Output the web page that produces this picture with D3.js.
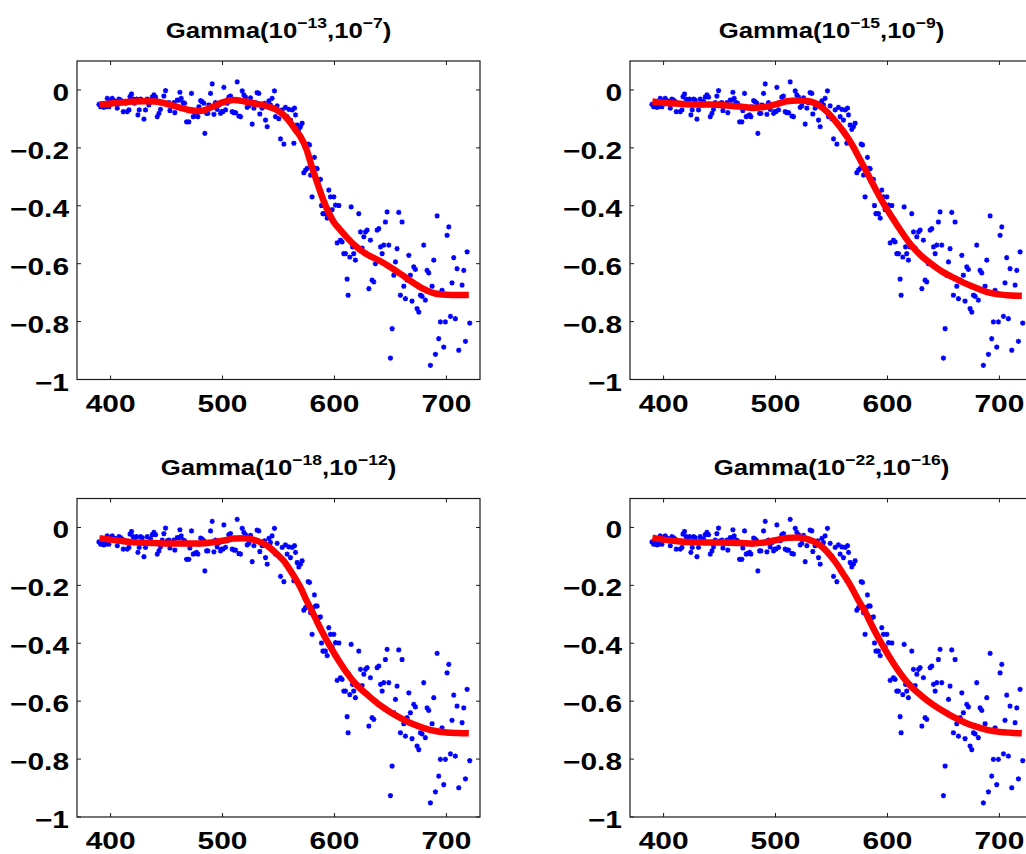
<!DOCTYPE html>
<html>
<head>
<meta charset="utf-8">
<script src="https://cdn.jsdelivr.net/npm/d3@7"></script>
<style>
  body { margin: 0; background: #fff; }
  text { font-family: "Liberation Sans", Arial, Helvetica, sans-serif; font-weight: bold; fill: #000; }
</style>
</head>
<body>
<div id="chart"></div>
<script>
const svgWidth = 1026;
const svgHeight = 854;

// measured samples (same in every panel)
const scatterX = [389.6,391.1,392.6,394.0,395.5,397.0,398.5,400.0,401.5,403.0,404.5,406.0,407.4,408.9,410.4,411.3,413.4,414.9,416.4,417.3,
  418.7,420.2,421.4,423.2,424.4,425.6,426.8,428.3,429.8,431.2,432.7,434.2,435.7,437.2,438.7,440.2,441.7,443.2,444.6,446.1,
  447.6,449.1,450.6,452.1,453.0,455.1,456.5,457.4,459.5,461.0,461.9,463.1,464.9,466.1,467.9,469.9,470.8,472.3,473.8,475.3,
  476.8,478.0,478.9,480.4,481.8,483.3,484.2,485.7,486.9,487.8,489.3,490.8,492.3,493.7,495.2,496.7,498.2,499.1,500.3,501.2,
  502.7,504.2,505.6,507.1,508.6,510.1,511.6,513.1,514.6,516.1,517.6,519.0,520.5,522.0,523.5,525.0,526.5,528.0,529.5,530.9,
  532.4,533.3,535.4,537.5,538.4,539.9,541.4,542.8,544.3,546.4,547.3,548.8,550.3,551.8,553.3,554.8,556.2,557.7,559.2,560.7,
  562.2,563.7,564.3,565.2,566.7,568.1,569.6,571.1,572.6,574.1,575.6,576.5,577.7,578.6,580.0,580.9,582.1,583.3,584.5,586.0,
  587.5,588.4,589.6,590.5,592.0,593.5,594.9,596.4,597.9,599.4,600.9,602.4,603.9,605.3,606.8,608.3,609.8,611.3,612.2,613.7,
  614.9,616.1,617.2,618.7,620.2,621.7,623.2,624.7,626.2,627.7,629.2,630.7,632.1,633.6,635.1,636.6,638.1,639.6,641.1,642.6,
  644.0,645.5,647.0,648.5,650.0,651.5,653.0,654.5,655.9,657.4,658.9,660.4,661.9,663.4,664.9,666.4,667.8,669.3,670.8,672.3,
  673.8,675.3,676.8,678.3,679.7,681.2,682.7,684.2,685.7,687.2,688.7,690.2,691.7,693.1,694.6,696.1,697.6,699.1,700.6,702.1,
  703.6,705.0,706.5,708.0,709.5,711.0,714.0,715.5,717.0,718.5,720.8];
const scatterY = [-0.050,-0.058,-0.054,-0.060,-0.058,-0.029,-0.058,-0.035,-0.029,-0.037,-0.040,-0.063,-0.032,-0.035,-0.040,-0.075,-0.046,-0.075,-0.069,-0.023,
  -0.014,-0.032,-0.046,-0.032,-0.086,-0.069,-0.032,-0.035,-0.101,-0.069,-0.032,-0.052,-0.040,-0.025,-0.017,-0.025,-0.092,-0.081,-0.067,-0.044,
  -0.021,-0.002,-0.046,-0.044,-0.071,-0.052,-0.044,-0.078,-0.035,-0.035,-0.008,-0.029,-0.044,-0.046,-0.110,-0.110,-0.071,-0.012,-0.092,-0.090,
  -0.086,-0.092,-0.058,-0.037,-0.040,-0.046,-0.150,-0.081,-0.081,-0.052,-0.012,0.021,-0.084,-0.044,-0.067,-0.052,-0.081,-0.075,-0.075,0.009,
  -0.069,-0.046,-0.025,-0.021,-0.075,-0.078,-0.078,0.028,-0.090,-0.092,-0.003,-0.017,-0.025,-0.060,-0.055,-0.027,-0.118,-0.063,-0.044,-0.009,
  -0.012,-0.083,-0.063,-0.046,-0.104,-0.127,-0.038,-0.052,-0.029,-0.003,-0.092,-0.055,-0.099,-0.169,-0.069,-0.187,-0.060,-0.092,-0.067,-0.104,
  -0.069,-0.184,-0.063,-0.086,-0.121,-0.136,-0.127,-0.115,-0.286,-0.277,-0.271,-0.187,-0.190,-0.294,-0.369,-0.277,-0.233,-0.271,-0.272,-0.311,
  -0.309,-0.399,-0.427,-0.427,-0.427,-0.443,-0.346,-0.369,-0.413,-0.369,-0.398,-0.528,-0.399,-0.519,-0.525,-0.565,-0.565,-0.653,-0.709,-0.577,
  -0.404,-0.542,-0.565,-0.588,-0.542,-0.427,-0.490,-0.546,-0.507,-0.490,-0.484,-0.686,-0.519,-0.657,-0.663,-0.600,-0.484,-0.479,-0.542,-0.565,
  -0.536,-0.456,-0.421,-0.536,-0.926,-0.824,-0.640,-0.594,-0.548,-0.423,-0.709,-0.456,-0.678,-0.721,-0.657,-0.571,-0.640,-0.729,-0.611,-0.620,
  -0.755,-0.767,-0.709,-0.713,-0.536,-0.726,-0.623,-0.632,-0.951,-0.678,-0.588,-0.913,-0.435,-0.859,-0.801,-0.692,-0.888,-0.801,-0.502,-0.473,
  -0.782,-0.666,-0.579,-0.790,-0.617,-0.899,-0.674,-0.623,-0.868,-0.559,-0.805];

// fitted curves, one per panel
const fitX = [390,400,410,420,430,440,450,460,470,480,490,500,510,520,530,540,550,555,560,565,
  570,575,580,585,590,595,600,605,610,620,630,640,650,660,670,680,690,700,710,720];
const fit13 = [-0.050,-0.047,-0.043,-0.040,-0.039,-0.040,-0.048,-0.059,-0.069,-0.073,-0.060,-0.043,-0.035,-0.040,-0.048,-0.056,-0.073,-0.088,-0.110,-0.137,
  -0.164,-0.205,-0.268,-0.325,-0.380,-0.425,-0.460,-0.482,-0.505,-0.543,-0.570,-0.589,-0.612,-0.638,-0.665,-0.688,-0.703,-0.707,-0.708,-0.708];
const fit15 = [-0.040,-0.044,-0.047,-0.049,-0.050,-0.050,-0.052,-0.055,-0.058,-0.062,-0.059,-0.050,-0.039,-0.036,-0.039,-0.056,-0.092,-0.115,-0.140,-0.168,
  -0.200,-0.237,-0.273,-0.310,-0.347,-0.382,-0.415,-0.445,-0.475,-0.530,-0.572,-0.603,-0.630,-0.650,-0.669,-0.685,-0.699,-0.706,-0.710,-0.711];
const fit18 = [-0.037,-0.042,-0.047,-0.051,-0.053,-0.054,-0.055,-0.055,-0.055,-0.055,-0.052,-0.046,-0.038,-0.037,-0.045,-0.063,-0.097,-0.117,-0.145,-0.176,
  -0.210,-0.252,-0.290,-0.330,-0.368,-0.403,-0.436,-0.467,-0.496,-0.545,-0.580,-0.612,-0.638,-0.660,-0.679,-0.693,-0.703,-0.708,-0.710,-0.711];
const fit22 = [-0.035,-0.042,-0.047,-0.050,-0.051,-0.052,-0.052,-0.053,-0.054,-0.055,-0.052,-0.044,-0.036,-0.035,-0.042,-0.062,-0.102,-0.128,-0.158,-0.188,
  -0.222,-0.258,-0.290,-0.330,-0.368,-0.403,-0.436,-0.467,-0.496,-0.545,-0.580,-0.610,-0.635,-0.657,-0.675,-0.689,-0.700,-0.706,-0.709,-0.711];

const fits = [fit13, fit15, fit18, fit22];
const titleLo = ["\u221213", "\u221215", "\u221218", "\u221222"];
const titleHi = ["\u22127", "\u22129", "\u221212", "\u221216"];

const xTicks = [400, 500, 600, 700];
const xTickLabels = ["400", "500", "600", "700"];
const yTicks = [0, -0.2, -0.4, -0.6, -0.8, -1];
const yTickLabels = ["0", "\u22120.2", "\u22120.4", "\u22120.6", "\u22120.8", "\u22121"];

const plotW = 403;
const plotH = 318.5;
const panelLeft = [77, 630];
const panelTop = [61, 498.5];
const tickLen = 4;
const textStretch = 1.3;

const svg = d3.select("#chart").append("svg")
  .attr("width", svgWidth)
  .attr("height", svgHeight);
svg.append("rect").attr("width", svgWidth).attr("height", svgHeight).attr("fill", "#fff");

// asterisk marker like matlab '*'
const star = "M-2.6,0H2.6M0,-2.6V2.6M-1.9,-1.9L1.9,1.9M-1.9,1.9L1.9,-1.9";

function drawPanel(idx) {
  let left = panelLeft[idx % 2];
  let top = panelTop[Math.floor(idx / 2)];
  let x = d3.scaleLinear().domain([370, 730]).range([0, plotW]);
  let y = d3.scaleLinear().domain([-1, 0.1]).range([plotH, 0]);
  let g = svg.append("g").attr("transform", `translate(${left},${top})`);

  // scatter
  g.selectAll("path.pt")
    .data(d3.zip(scatterX, scatterY))
    .enter()
    .append("path")
    .attr("class", "pt")
    .attr("d", star)
    .attr("transform", d => `translate(${x(d[0])},${y(d[1])})`)
    .attr("stroke", "#0000ff")
    .attr("stroke-width", 1.4)
    .attr("fill", "none");

  // fitted curve
  let line = d3.line()
    .x((d, i) => x(fitX[i]))
    .y(d => y(d))
    .curve(d3.curveMonotoneX);
  g.append("path")
    .datum(fits[idx])
    .attr("d", line)
    .attr("fill", "none")
    .attr("stroke", "#ff0000")
    .attr("stroke-width", 6.5)
    .attr("stroke-linejoin", "round");

  // box
  g.append("rect")
    .attr("x", 0).attr("y", 0)
    .attr("width", plotW).attr("height", plotH)
    .attr("fill", "none")
    .attr("stroke", "#1a1a1a")
    .attr("stroke-width", 1.2);

  // ticks on all sides, pointing in
  xTicks.forEach(function (v, i) {
    g.append("line").attr("x1", x(v)).attr("x2", x(v)).attr("y1", plotH).attr("y2", plotH - tickLen)
      .attr("stroke", "#1a1a1a");
    g.append("line").attr("x1", x(v)).attr("x2", x(v)).attr("y1", 0).attr("y2", tickLen)
      .attr("stroke", "#1a1a1a");
    g.append("text")
      .attr("transform", `translate(${x(v)},${plotH + 32}) scale(${textStretch},1)`)
      .attr("text-anchor", "middle")
      .style("font-size", "23px")
      .text(xTickLabels[i]);
  });
  yTicks.forEach(function (v, i) {
    g.append("line").attr("x1", 0).attr("x2", tickLen).attr("y1", y(v)).attr("y2", y(v))
      .attr("stroke", "#1a1a1a");
    g.append("line").attr("x1", plotW).attr("x2", plotW - tickLen).attr("y1", y(v)).attr("y2", y(v))
      .attr("stroke", "#1a1a1a");
    g.append("text")
      .attr("transform", `translate(-8,${y(v) + 11}) scale(${textStretch},1)`)
      .attr("text-anchor", "end")
      .style("font-size", "23px")
      .text(yTickLabels[i]);
  });

  // title
  let title = g.append("text")
    .attr("transform", `translate(${plotW / 2},-23.5) scale(1.17,1)`)
    .attr("text-anchor", "middle")
    .style("font-size", "22px");
  title.append("tspan").text("Gamma(10");
  title.append("tspan").attr("dy", -10).style("font-size", "15px").text(titleLo[idx]);
  title.append("tspan").attr("dy", 10).text(",10");
  title.append("tspan").attr("dy", -10).style("font-size", "15px").text(titleHi[idx]);
  title.append("tspan").attr("dy", 10).text(")");
}

for (let i = 0; i < 4; i++) {
  drawPanel(i);
}
</script>
</body>
</html>
